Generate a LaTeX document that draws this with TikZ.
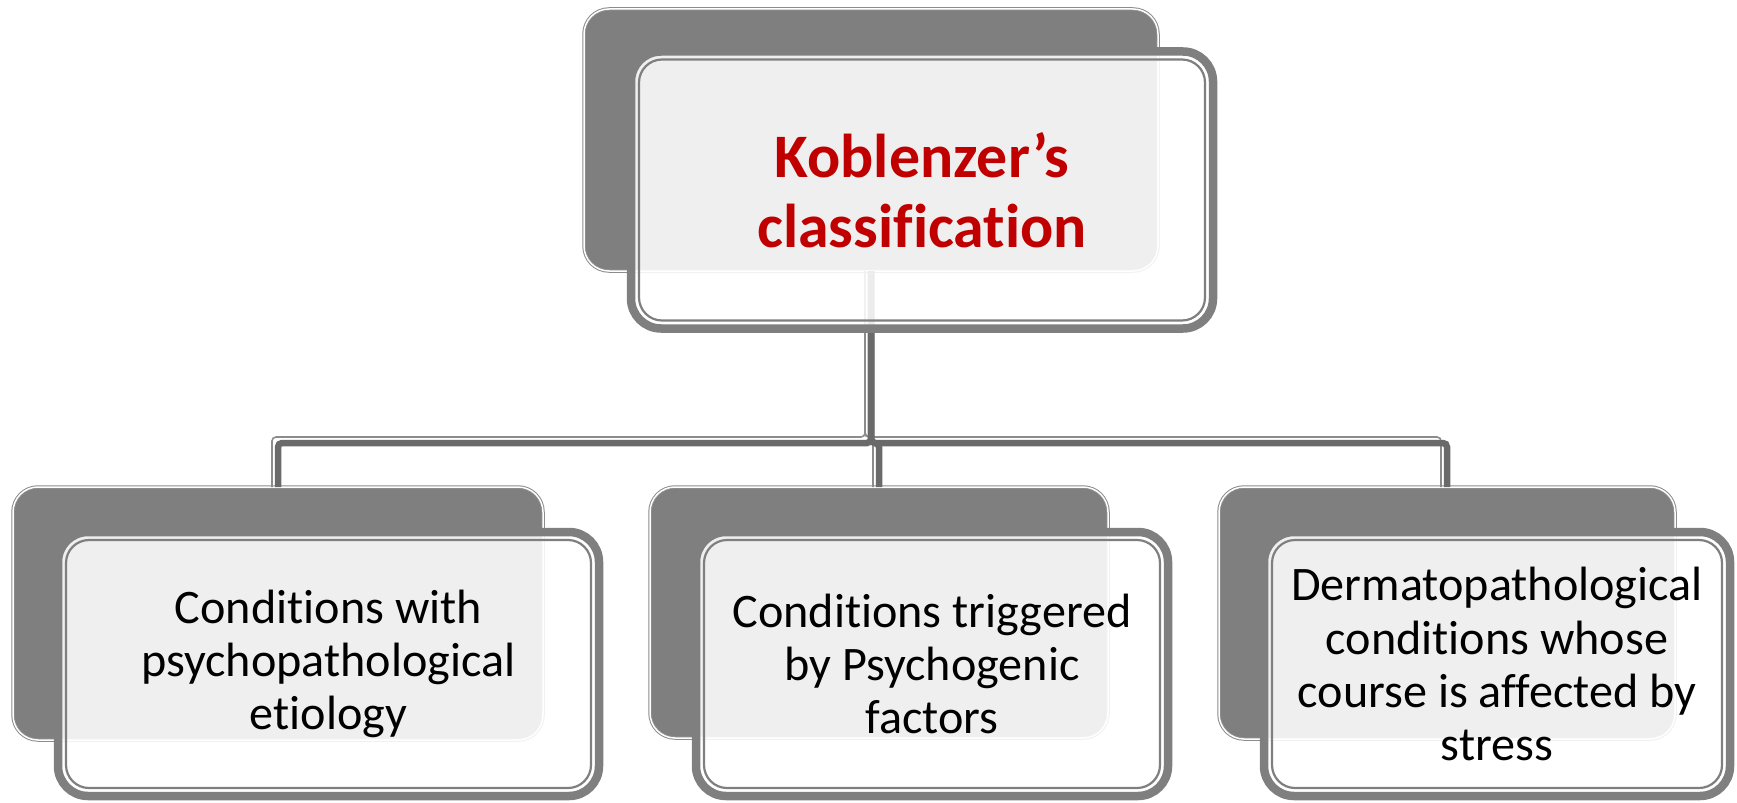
\documentclass[tikz,border=0pt]{standalone}
\usepackage{fontspec}
\setmainfont{Carlito}[Ligatures=NoCommon]
\usetikzlibrary{calc}
\definecolor{boxgray}{HTML}{7F7F7F}
\definecolor{linegray}{HTML}{8C8C8C}
\definecolor{titlered}{HTML}{C00000}
\definecolor{conngray}{HTML}{6A6A6A}
\tikzset{
  backbox/.style={rectangle, rounded corners=2.5mm, fill=boxgray, draw=linegray,
    double=white, double distance=0.15mm, line width=0.1mm, outer sep=0pt},
  frontbox/.style={rectangle, rounded corners=3mm, fill=white, fill opacity=0.88,
    text opacity=1, draw=boxgray, draw opacity=1, line width=0.85mm, align=center,
    inner sep=0pt, outer sep=0pt},
  innerline/.style={draw=boxgray, line width=0.22mm, rounded corners=2.3mm},
  conn/.style={draw=conngray, line width=0.65mm, rounded corners=0.4mm},
  connlight/.style={draw=linegray, line width=0.16mm, rounded corners=0.4mm},
  titletext/.style={font=\bfseries\fontsize{17.6pt}{19.9pt}\selectfont, text=titlered},
  leaftext/.style={font=\fontsize{13.7pt}{15.1pt}\selectfont, text=black},
}
\begin{document}
\begin{tikzpicture}[x=0.1mm, y=-0.1mm]
\useasboundingbox (0,0) rectangle (1737,802);
% back boxes
\node[backbox, minimum width=57.4mm, minimum height=26.2mm] (tb) at (871,140) {};
\node[backbox, minimum width=53.0mm, minimum height=25.3mm] (lb) at (278,613.5) {};
\node[backbox, minimum width=45.8mm, minimum height=25.1mm] (mb) at (879,612.5) {};
\node[backbox, minimum width=45.6mm, minimum height=25.2mm] (rb) at (1447,613) {};
% connectors
\coordinate (bus) at (0,443);
\coordinate (busl) at (0,437);
\foreach \c in {lb,mb,rb}{
  \draw[connlight] ($(tb.south)+(-6,0)$) -- ($(tb.south |- busl)+(-6,0)$) -| ($(\c.north)+(-6,0)$);
}
\foreach \c in {lb,mb,rb}{
  \draw[conn] (tb.south) -- (tb.south |- bus) -| (\c.north);
}
% front boxes
\node[frontbox, titletext, minimum width=58.2mm, minimum height=27.7mm] (t) at (922,190)
  {Koblenzer’s\\classification};
\node[frontbox, leaftext, minimum width=54.1mm, minimum height=26.4mm] (l) at (328.5,664)
  {Conditions with\\psychopathological\\etiology};
\node[frontbox, leaftext, minimum width=47.2mm, minimum height=26.4mm] (m) at (932,664)
  {Conditions triggered\\by Psychogenic\\factors};
\node[frontbox, leaftext, minimum width=46.6mm, minimum height=26.4mm] (r) at (1497,664)
  {Dermatopathological\\conditions whose\\course is affected by\\stress};
% inner lines of front boxes
\foreach \n in {t,l,m,r}{
  \draw[innerline] ($(\n.north west)+(8,8)$) rectangle ($(\n.south east)+(-8,-8)$);
}
\end{tikzpicture}
\end{document}
